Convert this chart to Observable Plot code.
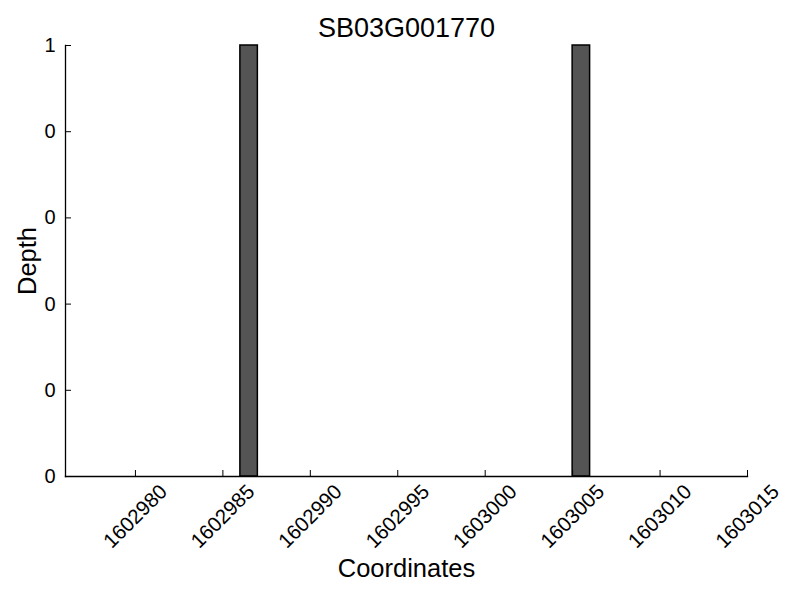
<!DOCTYPE html>
<html>
<head>
<meta charset="utf-8">
<script src="https://cdn.jsdelivr.net/npm/d3@7"></script>
<script src="https://cdn.jsdelivr.net/npm/@observablehq/plot@0.6"></script>
<style>
  html, body { margin: 0; padding: 0; background: #fff; }
  svg { font-family: "Liberation Sans", Arial, sans-serif; }
</style>
</head>
<body>
<div id="chart"></div>
<script>
const title = "SB03G001770";
const xLabel = "Coordinates";
const yLabel = "Depth";
const barStarts = [1602986, 1603005];
const barDepths = [1, 1];
const xDomain = [1602976, 1603015];
const xTicks = [1602980, 1602985, 1602990, 1602995, 1603000, 1603005, 1603010, 1603015];
const yTicks = [0, 0.2, 0.4, 0.6, 0.8, 1];

const bars = barStarts.map((s, i) => ({start: s, end: s + 1, depth: barDepths[i]}));

const chart = Plot.plot({
  width: 800,
  height: 600,
  marginLeft: 65,
  marginRight: 53,
  marginTop: 45,
  marginBottom: 124,
  style: {fontFamily: '"Liberation Sans", Arial, sans-serif', background: "#fff"},
  x: {domain: xDomain},
  y: {domain: [0, 1]},
  marks: [
    Plot.rectY(bars, {x1: "start", x2: "end", y: "depth", fill: "#545454", stroke: "#000", strokeWidth: 1.5}),
    Plot.axisY({ticks: yTicks, tickFormat: d => String(Math.floor(d)), tickSize: -6, tickPadding: 16, fontSize: 20, label: null, color: "#000"}),
    Plot.axisX({ticks: xTicks, tickSize: -6, tickFormat: () => "", label: null, color: "#000"}),
    Plot.text(xTicks, {x: d => d, frameAnchor: "bottom", dy: 40, rotate: -45, textAnchor: "middle", lineAnchor: "middle", text: d => String(d), fontSize: 20.5, fill: "#000"}),
    Plot.frame({anchor: "left", stroke: "#000", strokeWidth: 1.3}),
    Plot.frame({anchor: "bottom", stroke: "#000", strokeWidth: 1.3}),
    Plot.text([title], {frameAnchor: "top", dy: -17, lineAnchor: "middle", textAnchor: "middle", text: d => d, fontSize: 27, fill: "#000"}),
    Plot.text([xLabel], {frameAnchor: "bottom", dy: 92, lineAnchor: "middle", textAnchor: "middle", text: d => d, fontSize: 25.5, fill: "#000"}),
    Plot.text([yLabel], {frameAnchor: "left", dx: -38, rotate: -90, lineAnchor: "middle", textAnchor: "middle", text: d => d, fontSize: 25.5, fill: "#000"})
  ]
});
document.getElementById("chart").appendChild(chart);
</script>
</body>
</html>
